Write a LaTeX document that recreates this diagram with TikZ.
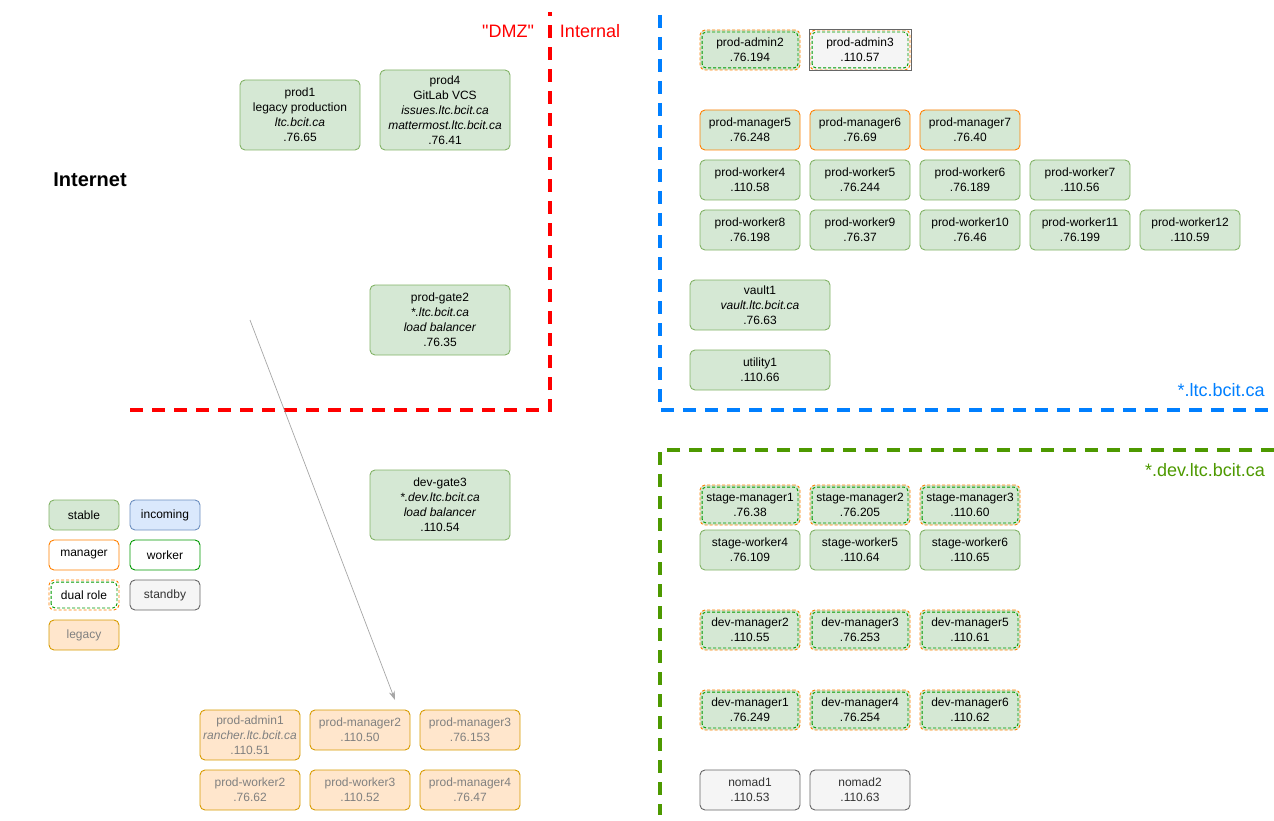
\documentclass[tikz,border=0pt]{standalone}
\usepackage{fontspec}
\setmainfont{Liberation Sans}
\newfontfamily\zonefont{Liberation Sans}[Ligatures=TeXOff]
\definecolor{StableFill}{HTML}{D5E8D4}
\definecolor{StableLine}{HTML}{82B366}
\definecolor{NewFill}{HTML}{DAE8FC}
\definecolor{NewLine}{HTML}{6C8EBF}
\definecolor{MgrOrange}{HTML}{FF8000}
\definecolor{WkrGreen}{HTML}{009900}
\definecolor{SpareFill}{HTML}{F5F5F5}
\definecolor{SpareLine}{HTML}{666666}
\definecolor{OldFill}{HTML}{FFE6CC}
\definecolor{OldLine}{HTML}{D79B00}
\definecolor{ZoneRed}{HTML}{FF0000}
\definecolor{ZoneBlue}{HTML}{007FFF}
\definecolor{ZoneGreen}{HTML}{4D9900}
\usetikzlibrary{positioning, arrows.meta, calc}

\begin{document}
\begin{tikzpicture}[
  x=1pt, y=-1pt,
  font=\fontsize{12}{15}\selectfont,
  vm/.style={draw=StableLine, fill=StableFill, line width=0.9pt,
    rounded corners=5pt, minimum width=100pt, minimum height=40pt,
    align=center, inner sep=2pt},
  mgr/.style={vm, draw=MgrOrange},
  wkr/.style={vm, draw=WkrGreen},
  dual/.style={vm, draw=MgrOrange, dash pattern=on 3pt off 2pt},
  idash/.style={draw=WkrGreen, line width=0.9pt, dash pattern=on 3pt off 2pt,
    rounded corners=4pt},
  spare/.style={vm, draw=SpareLine, fill=SpareFill, text=black!80},
  old/.style={vm, draw=OldLine, fill=OldFill, text=black!50},
  lgd/.style={minimum width=70pt, minimum height=30pt},
  zone/.style={line width=3.5pt, dash pattern=on 13pt off 9pt},
  zlabel/.style={font=\zonefont\fontsize{18}{20}\selectfont},
  arr/.style={-{Stealth[length=9pt, width=6pt]}, black!35, line width=0.7pt},
  node distance=9.1pt,
]
  \useasboundingbox (0,0) rectangle (1274,821);

  % Zones
  \draw[zone, ZoneRed] (130,410) -- (550,410) -- (550,12);
  \draw[zone, ZoneBlue] (660,15) -- (660,410) -- (1274,410);
  \draw[zone, ZoneGreen] (1274,450) -- (660,450) -- (660,815);
  \node[zlabel, text=ZoneRed] (dmz) at (508,31) {"DMZ"};
  \node[zlabel, text=ZoneRed] (internal) at (590,31) {Internal};
  \node[zlabel, text=ZoneBlue] (prodzone) at (1221,390) {*.ltc.bcit.ca};
  \node[zlabel, text=ZoneGreen] (devzone) at (1205,470) {*.dev.ltc.bcit.ca};
  \node[font=\fontsize{20}{24}\selectfont\bfseries] (inet) at (90,180) {Internet};

  % DMZ hosts
  \node[vm, minimum width=120pt, minimum height=70pt] (p1) at (300,115)
    {prod1\\legacy production\\\textit{ltc.bcit.ca}\\.76.65};
  \node[vm, minimum width=130pt, minimum height=80pt] (p4) at (445,110)
    {prod4\\GitLab VCS\\\textit{issues.ltc.bcit.ca}\\\textit{mattermost.ltc.bcit.ca}\\.76.41};
  \node[vm, minimum width=140pt, minimum height=70pt] (pg2) at (440,320)
    {prod-gate2\\\textit{*.ltc.bcit.ca}\\\textit{load balancer}\\.76.35};
  \node[vm, minimum width=140pt, minimum height=70pt] (dg3) at (440,505)
    {dev-gate3\\\textit{*.dev.ltc.bcit.ca}\\\textit{load balancer}\\.110.54};

  % Production
  \node[dual] (pa2) at (750,50) {prod-admin2\\.76.194};
  \node[dual, fill=SpareFill, right=of pa2] (pa3) {prod-admin3\\.110.57};

  \node[mgr] (pm5) at (750,130) {prod-manager5\\.76.248};
  \node[mgr, right=of pm5] (pm6) {prod-manager6\\.76.69};
  \node[mgr, right=of pm6] (pm7) {prod-manager7\\.76.40};

  \node[vm] (pw4) at (750,180) {prod-worker4\\.110.58};
  \node[vm, right=of pw4] (pw5) {prod-worker5\\.76.244};
  \node[vm, right=of pw5] (pw6) {prod-worker6\\.76.189};
  \node[vm, right=of pw6] (pw7) {prod-worker7\\.110.56};

  \node[vm] (pw8) at (750,230) {prod-worker8\\.76.198};
  \node[vm, right=of pw8] (pw9) {prod-worker9\\.76.37};
  \node[vm, right=of pw9] (pw10) {prod-worker10\\.76.46};
  \node[vm, right=of pw10] (pw11) {prod-worker11\\.76.199};
  \node[vm, right=of pw11] (pw12) {prod-worker12\\.110.59};

  \node[vm, minimum width=140pt, minimum height=50pt] (vault) at (760,305)
    {vault1\\\textit{vault.ltc.bcit.ca}\\.76.63};
  \node[vm, minimum width=140pt] (util) at (760,370) {utility1\\.110.66};

  % Staging and development
  \node[dual] (sm1) at (750,505) {stage-manager1\\.76.38};
  \node[dual, right=of sm1] (sm2) {stage-manager2\\.76.205};
  \node[dual, right=of sm2] (sm3) {stage-manager3\\.110.60};

  \node[vm] (sw4) at (750,550) {stage-worker4\\.76.109};
  \node[vm, right=of sw4] (sw5) {stage-worker5\\.110.64};
  \node[vm, right=of sw5] (sw6) {stage-worker6\\.110.65};

  \node[dual] (dm2) at (750,630) {dev-manager2\\.110.55};
  \node[dual, right=of dm2] (dm3) {dev-manager3\\.76.253};
  \node[dual, right=of dm3] (dm5) {dev-manager5\\.110.61};

  \node[dual] (dm1) at (750,710) {dev-manager1\\.76.249};
  \node[dual, right=of dm1] (dm4) {dev-manager4\\.76.254};
  \node[dual, right=of dm4] (dm6) {dev-manager6\\.110.62};

  \node[spare] (nomad1) at (750,790) {nomad1\\.110.53};
  \node[spare, right=of nomad1] (nomad2) {nomad2\\.110.63};

  % Legacy
  \node[old, minimum height=50pt] (pa1) at (250,735)
    {prod-admin1\\\textit{rancher.ltc.bcit.ca}\\.110.51};
  \node[old] (pm2) at (360,730) {prod-manager2\\.110.50};
  \node[old] (pm3) at (470,730) {prod-manager3\\.76.153};
  \node[old] (pw2) at (250,790) {prod-worker2\\.76.62};
  \node[old] (pw3) at (360,790) {prod-worker3\\.110.52};
  \node[old] (pm4) at (470,790) {prod-manager4\\.76.47};

  % Legend
  \node[vm, lgd] (keyStable) at (84,515) {stable};
  \node[vm, lgd, draw=NewLine, fill=NewFill] (keyNew) at (165,515) {incoming};
  \node[mgr, lgd, fill=white] (keyMgr) at (84,555) {manager};
  \node[wkr, lgd, fill=white] (keyWkr) at (165,555) {worker};
  \node[dual, lgd, fill=white] (keyDual) at (84,595) {dual role};
  \node[spare, lgd] (keySpare) at (165,595) {standby};
  \node[old, lgd] (keyOld) at (84,635) {legacy};

  % dual role: inner worker outline
  \foreach \n in {pa2,pa3,sm1,sm2,sm3,dm2,dm3,dm5,dm1,dm4,dm6,keyDual}
    \draw[idash] ([shift={(2.5pt,2.5pt)}]\n.south west)
      rectangle ([shift={(-2.5pt,-2.5pt)}]\n.north east);
  \draw[SpareLine, line width=0.9pt] ([shift={(-0.5pt,-0.5pt)}]pa3.south west)
    rectangle ([shift={(0.5pt,0.5pt)}]pa3.north east);

  \coordinate (arrTail) at (250,320);
  \coordinate (arrHead) at (395,700);
  \draw[arr] (arrTail) -- (arrHead);
\end{tikzpicture}
\end{document}
